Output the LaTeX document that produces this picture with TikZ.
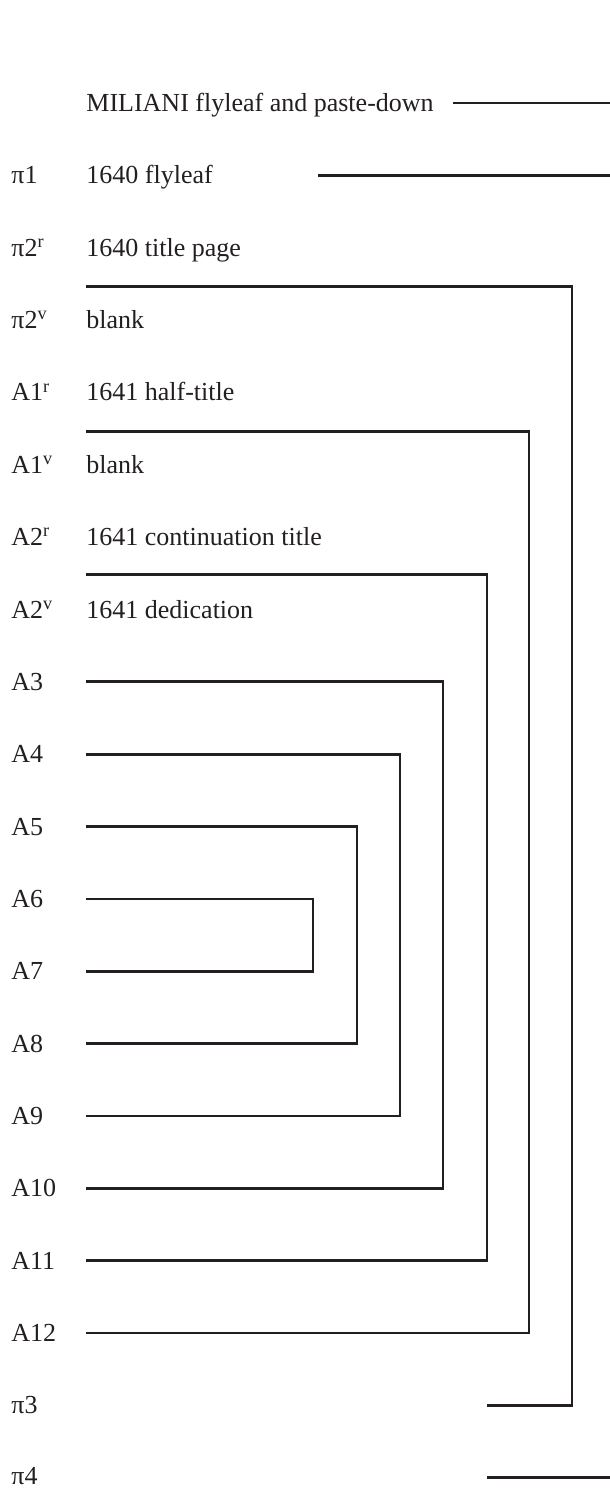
\documentclass[tikz,border=0pt]{standalone}
\usepackage{fontspec}
\setmainfont{Liberation Serif}
\definecolor{ink}{RGB}{35,31,32}
\begin{document}
\begin{tikzpicture}[x=0.5pt,y=-0.5pt,
  leaf/.style={line width=1.4pt, draw=ink},
  lbl/.style={anchor=base west, inner sep=0pt, text=ink,
    font=\fontsize{13}{15}\selectfont},
]
\useasboundingbox (0,0) rectangle (610,1488);

% signature marks (left column) and descriptions; baselines sit 8.5 below each row
\node[lbl] (d0)  at (86, 111.5)  {MILIANI flyleaf and paste-down};
\node[lbl] (s1)  at (11, 183.9)  {π1};
\node[lbl] (d1)  at (86, 183.9)  {1640 flyleaf};
\node[lbl] (s2)  at (11, 256.2)  {π2\textsuperscript{r}};
\node[lbl] (d2)  at (86, 256.2)  {1640 title page};
\node[lbl] (s3)  at (11, 328.6)  {π2\textsuperscript{v}};
\node[lbl] (d3)  at (86, 328.6)  {blank};
\node[lbl] (s4)  at (11, 400.9)  {A1\textsuperscript{r}};
\node[lbl] (d4)  at (86, 400.9)  {1641 half-title};
\node[lbl] (s5)  at (11, 473.3)  {A1\textsuperscript{v}};
\node[lbl] (d5)  at (86, 473.3)  {blank};
\node[lbl] (s6)  at (11, 545.6)  {A2\textsuperscript{r}};
\node[lbl] (d6)  at (86, 545.6)  {1641 continuation title};
\node[lbl] (s7)  at (11, 618.0)  {A2\textsuperscript{v}};
\node[lbl] (d7)  at (86, 618.0)  {1641 dedication};
\node[lbl] (s8)  at (11, 690.3)  {A3};
\node[lbl] (s9)  at (11, 762.7)  {A4};
\node[lbl] (s10) at (11, 835.0)  {A5};
\node[lbl] (s11) at (11, 907.4)  {A6};
\node[lbl] (s12) at (11, 979.7)  {A7};
\node[lbl] (s13) at (11, 1052.1) {A8};
\node[lbl] (s14) at (11, 1124.4) {A9};
\node[lbl] (s15) at (11, 1196.8) {A10};
\node[lbl] (s16) at (11, 1269.1) {A11};
\node[lbl] (s17) at (11, 1341.5) {A12};
\node[lbl] (s18) at (11, 1413.8) {π3};
\node[lbl] (s19) at (11, 1484.5) {π4};

% single leaves
\coordinate (m0) at (453,103);    \coordinate (m1) at (610,103);
\coordinate (f0) at (318,175.4);  \coordinate (f1) at (610,175.4);
\coordinate (e0) at (487,1477.7); \coordinate (e1) at (610,1477.7);
\draw[leaf] (m0) -- (m1);
\draw[leaf] (f0) -- (f1);
\draw[leaf] (e0) -- (e1);

% conjugate pairs, outermost to innermost
\coordinate (p2a) at (86,286.7);   \coordinate (p2b) at (572,1405.3); \coordinate (p2c) at (487,1405.3);
\draw[leaf] (p2a) -| (p2b) -- (p2c);

\coordinate (p4a) at (86,431.2);   \coordinate (p4b) at (529,1333);   \coordinate (p4c) at (86,1333);
\draw[leaf] (p4a) -| (p4b) -- (p4c);

\coordinate (p6a) at (86,574.5);   \coordinate (p6b) at (487,1260.6); \coordinate (p6c) at (86,1260.6);
\draw[leaf] (p6a) -| (p6b) -- (p6c);

\coordinate (a3a) at (86,681.8);   \coordinate (a3b) at (443,1188.3); \coordinate (a3c) at (86,1188.3);
\draw[leaf] (a3a) -| (a3b) -- (a3c);

\coordinate (a4a) at (86,754.2);   \coordinate (a4b) at (400,1115.9); \coordinate (a4c) at (86,1115.9);
\draw[leaf] (a4a) -| (a4b) -- (a4c);

\coordinate (a5a) at (86,826.5);   \coordinate (a5b) at (357,1043.6); \coordinate (a5c) at (86,1043.6);
\draw[leaf] (a5a) -| (a5b) -- (a5c);

\coordinate (a6a) at (86,898.9);   \coordinate (a6b) at (313,971.2);  \coordinate (a6c) at (86,971.2);
\draw[leaf] (a6a) -| (a6b) -- (a6c);
\end{tikzpicture}
\end{document}
